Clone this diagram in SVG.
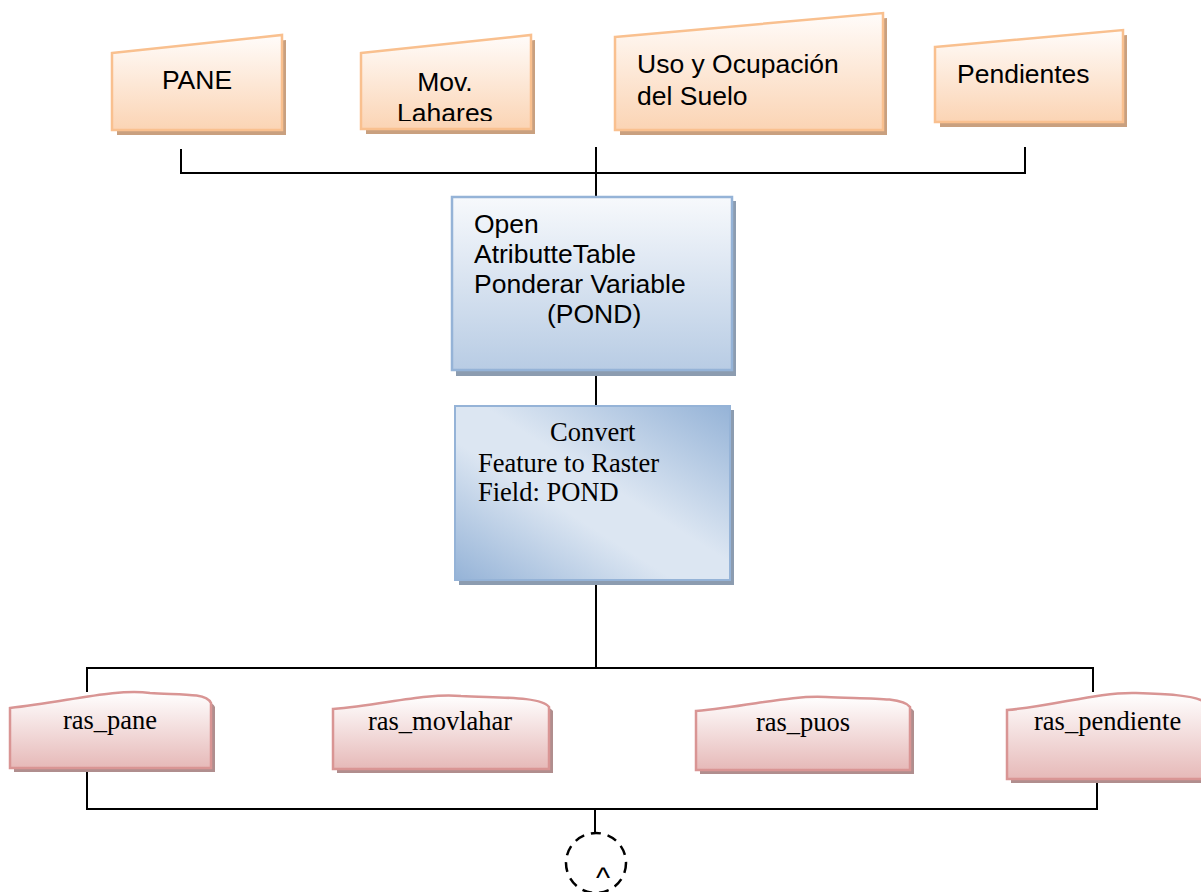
<svg xmlns="http://www.w3.org/2000/svg" width="1201" height="892" viewBox="0 0 1201 892">
  <defs>
    <linearGradient id="gOrange" x1="0" y1="0" x2="0" y2="1">
      <stop offset="0" stop-color="#fffcfa"/>
      <stop offset="1" stop-color="#fbd4b4"/>
    </linearGradient>
    <linearGradient id="gBlue" x1="0" y1="0" x2="0" y2="1">
      <stop offset="0" stop-color="#f7f9fc"/>
      <stop offset="1" stop-color="#b8cce4"/>
    </linearGradient>
    <linearGradient id="gBlueDiag" x1="1" y1="0" x2="0" y2="1">
      <stop offset="0" stop-color="#95b3d7"/>
      <stop offset="0.45" stop-color="#dce6f2"/>
      <stop offset="0.6" stop-color="#dce6f2"/>
      <stop offset="1" stop-color="#95b3d7"/>
    </linearGradient>
    <linearGradient id="gPink" x1="0" y1="0" x2="0" y2="1">
      <stop offset="0" stop-color="#ffffff"/>
      <stop offset="1" stop-color="#e6b9b8"/>
    </linearGradient>
    <clipPath id="clipLahares">
      <rect x="361" y="35" width="170" height="86"/>
    </clipPath>
  </defs>
  <style>
    .in { stroke: #f9c08f; stroke-width: 2.5; fill: url(#gOrange); }
    .inSh { fill: #c9a07f; }
    .proc { stroke: #95b3d7; stroke-width: 2.5; fill: url(#gBlue); }
    .procD { stroke: #95b3d7; stroke-width: 2; fill: url(#gBlueDiag); }
    .procSh { fill: #8c9cb0; }
    .out { stroke: #d99594; stroke-width: 2.5; fill: url(#gPink); }
    .outSh { fill: #b08e8e; }
    .sans { font-family: "Liberation Sans", Arial, sans-serif; font-size: 26.5px; fill: #000; }
    .serif { font-family: "Liberation Serif", "Times New Roman", serif; font-size: 26.5px; fill: #000; }
    .wire { stroke: #000; stroke-width: 2; fill: none; }
  </style>

  <!-- connectors -->
  <g id="connectors">
    <polyline class="wire" points="181,149 181,173 1025,173 1025,147"/>
    <line class="wire" x1="596" y1="147" x2="596" y2="197"/>
    <line class="wire" x1="596" y1="374" x2="596" y2="406"/>
    <line class="wire" x1="596" y1="584" x2="596" y2="668"/>
    <polyline class="wire" points="87,692 87,668 1093,668 1093,692"/>
    <polyline class="wire" points="87,772 87,809 1097,809 1097,781"/>
    <line class="wire" x1="595" y1="809" x2="595" y2="833"/>
  </g>

  <!-- input layers -->
  <g id="node-pane">
    <polygon class="inSh" points="117,58 286,40 286,135 117,135"/>
    <polygon class="in" points="112,53 282,35 282,130 112,130"/>
    <text class="sans" x="197" y="89" text-anchor="middle">PANE</text>
  </g>
  <g id="node-lahares">
    <polygon class="inSh" points="366,58 535,40 535,134 366,134"/>
    <polygon class="in" points="361,53 531,35 531,129 361,129"/>
    <text class="sans" x="445" y="91" text-anchor="middle">Mov.</text>
    <text class="sans" x="445" y="122" text-anchor="middle" clip-path="url(#clipLahares)">Lahares</text>
  </g>
  <g id="node-uso">
    <polygon class="inSh" points="620,42 887,18 887,135 620,135"/>
    <polygon class="in" points="615,37 883,13 883,130 615,130"/>
    <text class="sans" x="637" y="73">Uso y Ocupación</text>
    <text class="sans" x="637" y="105">del Suelo</text>
  </g>
  <g id="node-pendientes">
    <polygon class="inSh" points="940,52 1127,35 1127,127 940,127"/>
    <polygon class="in" points="935,47 1123,30 1123,122 935,122"/>
    <text class="sans" x="957" y="83">Pendientes</text>
  </g>

  <!-- processing steps -->
  <g id="node-open">
    <rect class="procSh" x="456" y="201" width="280" height="175"/>
    <rect class="proc" x="452" y="197" width="280" height="173"/>
    <text class="sans" x="474" y="233">Open</text>
    <text class="sans" x="474" y="263">AtributteTable</text>
    <text class="sans" x="474" y="293">Ponderar Variable</text>
    <text class="sans" x="547" y="323">(POND)</text>
  </g>
  <g id="node-convert">
    <rect class="procSh" x="459" y="410" width="275" height="175"/>
    <rect class="procD" x="455" y="406" width="275" height="174"/>
    <text class="serif" x="550" y="441">Convert</text>
    <text class="serif" x="478" y="472">Feature to Raster</text>
    <text class="serif" x="478" y="501">Field: POND</text>
  </g>

  <!-- raster outputs -->
  <g id="node-ras-pane">
    <path class="outSh" d="M14,712 C70,706 120,692 154,697 C180,699 210,696 215,707 L215,772 L14,772 Z"/>
    <path class="out" d="M10,708 C66,702 116,688 150,693 C176,695 206,692 211,703 L211,768 L10,768 Z"/>
    <text class="serif" x="110" y="729" text-anchor="middle">ras_pane</text>
  </g>
  <g id="node-ras-movlahar">
    <path class="outSh" d="M337,713 C390,708 430,697 465,700 C500,702 545,700 553,711 L553,773 L337,773 Z"/>
    <path class="out" d="M333,709 C386,704 426,693 461,696 C496,698 541,696 549,707 L549,769 L333,769 Z"/>
    <text class="serif" x="440" y="730" text-anchor="middle">ras_movlahar</text>
  </g>
  <g id="node-ras-puos">
    <path class="outSh" d="M700,715 C755,710 795,699 830,701 C865,703 906,700 914,711 L914,774 L700,774 Z"/>
    <path class="out" d="M696,711 C751,706 791,695 826,697 C861,699 902,696 910,707 L910,770 L696,770 Z"/>
    <text class="serif" x="803" y="731" text-anchor="middle">ras_puos</text>
  </g>
  <g id="node-ras-pendiente">
    <path class="outSh" d="M1011,714 C1060,710 1100,696 1140,697 C1170,698 1195,699 1205,705 L1205,783 L1011,783 Z"/>
    <path class="out" d="M1007,710 C1056,706 1096,692 1136,693 C1166,694 1191,695 1203,701 L1203,779 L1007,779 Z"/>
    <text class="serif" x="1034" y="730">ras_pendiente</text>
  </g>

  <!-- junction -->
  <g id="node-junction">
    <circle cx="596" cy="863" r="30" fill="none" stroke="#000" stroke-width="2.5" stroke-dasharray="10,7"/>
    <text x="603" y="888" text-anchor="middle" font-family="Liberation Sans, Arial, sans-serif" font-size="30">^</text>
  </g>
</svg>
